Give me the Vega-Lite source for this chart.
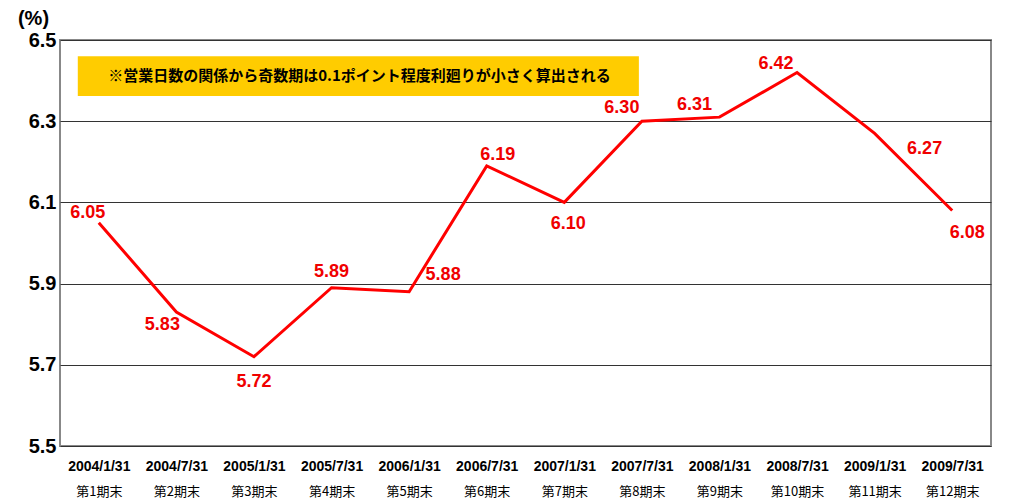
{
  "$schema": "https://vega.github.io/schema/vega-lite/v6.json",
  "width": 931,
  "height": 406,
  "autosize": {"type": "none"},
  "padding": {"left": 60, "top": 40, "right": 19, "bottom": 53},
  "background": "white",
  "config": {
    "view": {"stroke": "#888888", "strokeWidth": 2},
    "font": "Liberation Sans, Noto Sans CJK JP, sans-serif",
    "text": {"fontSize": 18, "fontWeight": "bold", "color": "#f00000", "baseline": "middle", "align": "center", "font": "Liberation Sans, Noto Sans CJK JP, sans-serif"}
  },
  "datasets": {
    "rates": [
      {"date": "2004/1/31", "period": "第1期末", "value": 6.05},
      {"date": "2004/7/31", "period": "第2期末", "value": 5.83},
      {"date": "2005/1/31", "period": "第3期末", "value": 5.72},
      {"date": "2005/7/31", "period": "第4期末", "value": 5.89},
      {"date": "2006/1/31", "period": "第5期末", "value": 5.88},
      {"date": "2006/7/31", "period": "第6期末", "value": 6.19},
      {"date": "2007/1/31", "period": "第7期末", "value": 6.10},
      {"date": "2007/7/31", "period": "第8期末", "value": 6.30},
      {"date": "2008/1/31", "period": "第9期末", "value": 6.31},
      {"date": "2008/7/31", "period": "第10期末", "value": 6.42},
      {"date": "2009/1/31", "period": "第11期末", "value": 6.27},
      {"date": "2009/7/31", "period": "第12期末", "value": 6.08}
    ],
    "note": [
      {"start": "2004/1/31", "end": "2007/7/31", "center": "2005/7/31", "top": 6.46, "bottom": 6.362, "mid": 6.411, "text": "※営業日数の関係から奇数期は0.1ポイント程度利廻りが小さく算出される"}
    ]
  },
  "data": {"name": "rates"},
  "layer": [
    {
      "encoding": {
        "x": {
          "field": "date", "type": "nominal",
          "scale": {"type": "point", "padding": 0.5, "domain": ["2004/1/31","2004/7/31","2005/1/31","2005/7/31","2006/1/31","2006/7/31","2007/1/31","2007/7/31","2008/1/31","2008/7/31","2009/1/31","2009/7/31"]},
          "axis": {"title": null, "labelAngle": 0, "labelAlign": "center", "labelFontSize": 14, "labelFontWeight": "bold", "labelColor": "#000000", "labelPadding": 20, "labelBaseline": "middle", "ticks": false, "domain": false, "grid": false, "labelFont": "Liberation Sans"}
        },
        "y": {
          "field": "value", "type": "quantitative",
          "scale": {"domain": [5.5, 6.5], "nice": false, "zero": false},
          "axis": {"values": [5.5, 5.7, 5.9, 6.1, 6.3, 6.5], "format": ".1f", "labelFontSize": 20, "labelFontWeight": "bold", "labelColor": "#000000", "labelPadding": 4, "labelFont": "Liberation Sans", "ticks": false, "domain": false, "grid": true, "gridColor": "#333333", "gridWidth": 1, "title": "(%)", "titleAngle": 0, "titleX": -27, "titleY": -22, "titleFontSize": 20, "titleFontWeight": "bold", "titleColor": "#000000", "titleFont": "Liberation Sans", "titleAlign": "center", "titleBaseline": "middle"}
        }
      },
      "layer": [
        {
          "data": {"name": "note"},
          "mark": {"type": "rect", "color": "#ffcc00", "xOffset": -21, "x2Offset": -3},
          "encoding": {
            "x": {"field": "start", "type": "nominal", "scale": {"type": "point", "padding": 0.5, "domain": ["2004/1/31","2004/7/31","2005/1/31","2005/7/31","2006/1/31","2006/7/31","2007/1/31","2007/7/31","2008/1/31","2008/7/31","2009/1/31","2009/7/31"]}, "axis": {"title": null, "labelAlign": "center"}},
            "x2": {"field": "end"},
            "y": {"field": "top", "type": "quantitative", "axis": {"title": "(%)"}},
            "y2": {"field": "bottom"}
          }
        },
        {
          "data": {"name": "note"},
          "mark": {"type": "text", "color": "#000000", "fontSize": 15, "fontWeight": "bold", "dx": 28, "font": "Noto Sans CJK JP"},
          "encoding": {
            "x": {"field": "center", "type": "nominal", "scale": {"type": "point", "padding": 0.5, "domain": ["2004/1/31","2004/7/31","2005/1/31","2005/7/31","2006/1/31","2006/7/31","2007/1/31","2007/7/31","2008/1/31","2008/7/31","2009/1/31","2009/7/31"]}, "axis": {"title": null, "labelAlign": "center"}},
            "y": {"field": "mid", "type": "quantitative", "axis": {"title": "(%)"}},
            "text": {"field": "text", "type": "nominal"}
          }
        },
        {"mark": {"type": "line", "color": "#ff0000", "strokeWidth": 3}},
        {"transform": [{"filter": "datum.date == '2004/1/31'"}], "mark": {"type": "text", "dx": -11, "dy": -10}, "encoding": {"text": {"field": "value", "type": "quantitative", "format": ".2f"}}},
        {"transform": [{"filter": "datum.date == '2004/7/31'"}], "mark": {"type": "text", "dx": -14, "dy": 13}, "encoding": {"text": {"field": "value", "type": "quantitative", "format": ".2f"}}},
        {"transform": [{"filter": "datum.date == '2005/1/31'"}], "mark": {"type": "text", "dx": 0, "dy": 25}, "encoding": {"text": {"field": "value", "type": "quantitative", "format": ".2f"}}},
        {"transform": [{"filter": "datum.date == '2005/7/31'"}], "mark": {"type": "text", "dx": 0, "dy": -16}, "encoding": {"text": {"field": "value", "type": "quantitative", "format": ".2f"}}},
        {"transform": [{"filter": "datum.date == '2006/1/31'"}], "mark": {"type": "text", "dx": 34, "dy": -17}, "encoding": {"text": {"field": "value", "type": "quantitative", "format": ".2f"}}},
        {"transform": [{"filter": "datum.date == '2006/7/31'"}], "mark": {"type": "text", "dx": 11, "dy": -11}, "encoding": {"text": {"field": "value", "type": "quantitative", "format": ".2f"}}},
        {"transform": [{"filter": "datum.date == '2007/1/31'"}], "mark": {"type": "text", "dx": 4, "dy": 22}, "encoding": {"text": {"field": "value", "type": "quantitative", "format": ".2f"}}},
        {"transform": [{"filter": "datum.date == '2007/7/31'"}], "mark": {"type": "text", "dx": -20, "dy": -13}, "encoding": {"text": {"field": "value", "type": "quantitative", "format": ".2f"}}},
        {"transform": [{"filter": "datum.date == '2008/1/31'"}], "mark": {"type": "text", "dx": -25, "dy": -12}, "encoding": {"text": {"field": "value", "type": "quantitative", "format": ".2f"}}},
        {"transform": [{"filter": "datum.date == '2008/7/31'"}], "mark": {"type": "text", "dx": -21, "dy": -8}, "encoding": {"text": {"field": "value", "type": "quantitative", "format": ".2f"}}},
        {"transform": [{"filter": "datum.date == '2009/1/31'"}], "mark": {"type": "text", "dx": 50, "dy": 16}, "encoding": {"text": {"field": "value", "type": "quantitative", "format": ".2f"}}},
        {"transform": [{"filter": "datum.date == '2009/7/31'"}], "mark": {"type": "text", "dx": 15, "dy": 22}, "encoding": {"text": {"field": "value", "type": "quantitative", "format": ".2f"}}}
      ]
    },
    {
      "mark": {"type": "point", "opacity": 0},
      "encoding": {
        "x": {
          "field": "period", "type": "nominal",
          "scale": {"type": "point", "padding": 0.5, "domain": ["第1期末","第2期末","第3期末","第4期末","第5期末","第6期末","第7期末","第8期末","第9期末","第10期末","第11期末","第12期末"]},
          "axis": {"orient": "bottom", "title": null, "labelAngle": 0, "labelAlign": "center", "labelFontSize": 13, "labelFontWeight": "normal", "labelColor": "#000000", "labelPadding": 45, "labelBaseline": "middle", "labelFont": "Noto Sans CJK JP", "ticks": false, "domain": false, "grid": false}
        }
      }
    }
  ],
  "resolve": {"scale": {"x": "independent"}}
}
